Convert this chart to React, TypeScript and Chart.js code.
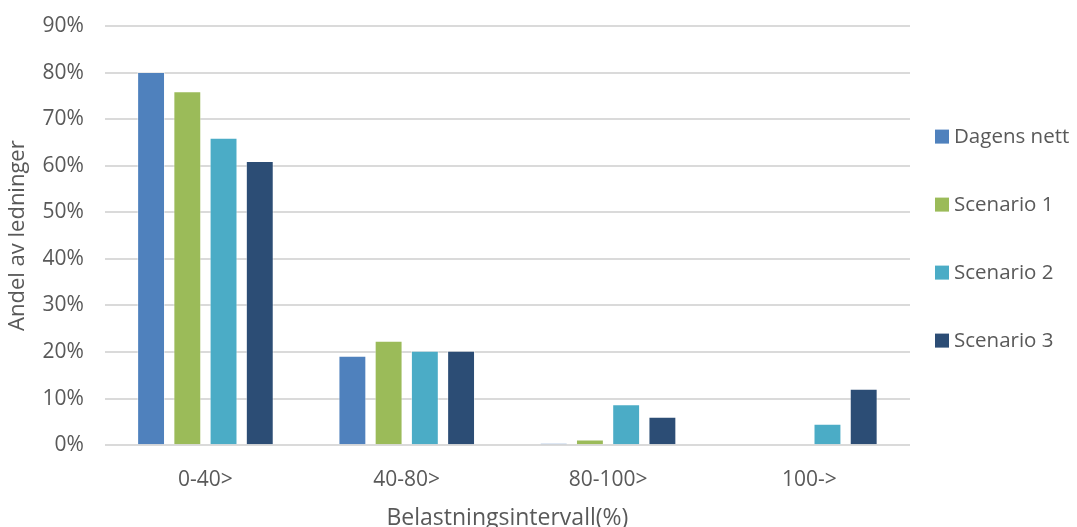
import React, { useEffect, useRef } from "react";
import { Chart, registerables } from "chart.js";

Chart.register(...registerables);

// Load intervals and share of lines (%) per scenario
const categories = ["0-40>", "40-80>", "80-100>", "100->"];
const dagensNett = [80.1, 19.2, 0.4, 0];
const scenario1 = [76.0, 22.4, 1.2, 0];
const scenario2 = [66.0, 20.3, 8.8, 4.6];
const scenario3 = [61.0, 20.3, 6.1, 12.1];
const yTicks = [0, 10, 20, 30, 40, 50, 60, 70, 80, 90];

const seriesNames = ["Dagens nett", "Scenario 1", "Scenario 2", "Scenario 3"];
const seriesColors = ["#4f81bd", "#9bbb59", "#4bacc6", "#2c4d75"];

const FONT = "'Open Sans', 'Noto Sans', sans-serif";
const TEXT = "#595959";

// Vertical legend to the right of the plot, spread evenly around its middle
const sideLegend = {
  id: "sideLegend",
  afterDraw(chart: any) {
    const { ctx, chartArea } = chart;
    const mid = (chartArea.top + chartArea.bottom) / 2 + 3;
    const step = 68;
    const n = chart.data.datasets.length;
    const boxX = chartArea.right + 25;
    const box = 14;
    ctx.save();
    ctx.font = `20.5px ${FONT}`;
    ctx.textBaseline = "middle";
    ctx.textAlign = "left";
    chart.data.datasets.forEach((ds: any, i: number) => {
      const y = mid + (i - (n - 1) / 2) * step;
      ctx.fillStyle = ds.backgroundColor;
      ctx.fillRect(boxX, y - box / 2, box, box);
      ctx.fillStyle = TEXT;
      ctx.fillText(ds.label, boxX + box + 5, y + 1);
    });
    ctx.restore();
  },
};

export default function App() {
  const ref = useRef<HTMLCanvasElement | null>(null);

  useEffect(() => {
    if (!ref.current) return;
    const values = [dagensNett, scenario1, scenario2, scenario3];
    const chart = new Chart(ref.current, {
      type: "bar",
      data: {
        labels: categories,
        datasets: values.map((v, i) => ({
          label: seriesNames[i],
          data: v,
          backgroundColor: seriesColors[i],
          borderColor: "rgba(255,255,255,0.45)",
          borderWidth: 1,
          categoryPercentage: 0.72,
          barPercentage: 0.77,
        })),
      },
      options: {
        animation: false,
        responsive: false,
        maintainAspectRatio: false,
        layout: { padding: { left: 5, top: 26, right: 167, bottom: -5 } },
        plugins: {
          legend: { display: false },
          tooltip: { enabled: false },
        },
        scales: {
          x: {
            grid: { display: false, drawTicks: false },
            border: { display: false },
            ticks: {
              font: { family: FONT, size: 21 },
              color: TEXT,
              padding: 22,
            },
            title: {
              display: true,
              text: "Belastningsintervall(%)",
              font: { family: FONT, size: 23 },
              color: TEXT,
              padding: { top: -10, bottom: 0 },
            },
          },
          y: {
            min: 0,
            max: 90,
            afterBuildTicks: (axis: any) => {
              axis.ticks = yTicks.map((v) => ({ value: v }));
            },
            grid: {
              color: "#dadada",
              lineWidth: 2,
              drawTicks: true,
              tickLength: 21,
              tickColor: "rgba(0,0,0,0)",
            },
            border: { display: false },
            ticks: {
              font: { family: FONT, size: 21 },
              color: TEXT,
              padding: 0,
              callback: (v: any) => v + "%",
            },
            title: {
              display: true,
              text: "Andel av ledninger",
              font: { family: FONT, size: 22 },
              color: TEXT,
              padding: { top: 0, bottom: 11 },
            },
          },
        },
      },
      plugins: [sideLegend],
    });
    return () => chart.destroy();
  }, []);

  return (
    <div style={{ position: "fixed", left: 0, top: 0, width: 1077, height: 527, background: "#fff" }}>
      <canvas ref={ref} width={1077} height={527} />
    </div>
  );
}
